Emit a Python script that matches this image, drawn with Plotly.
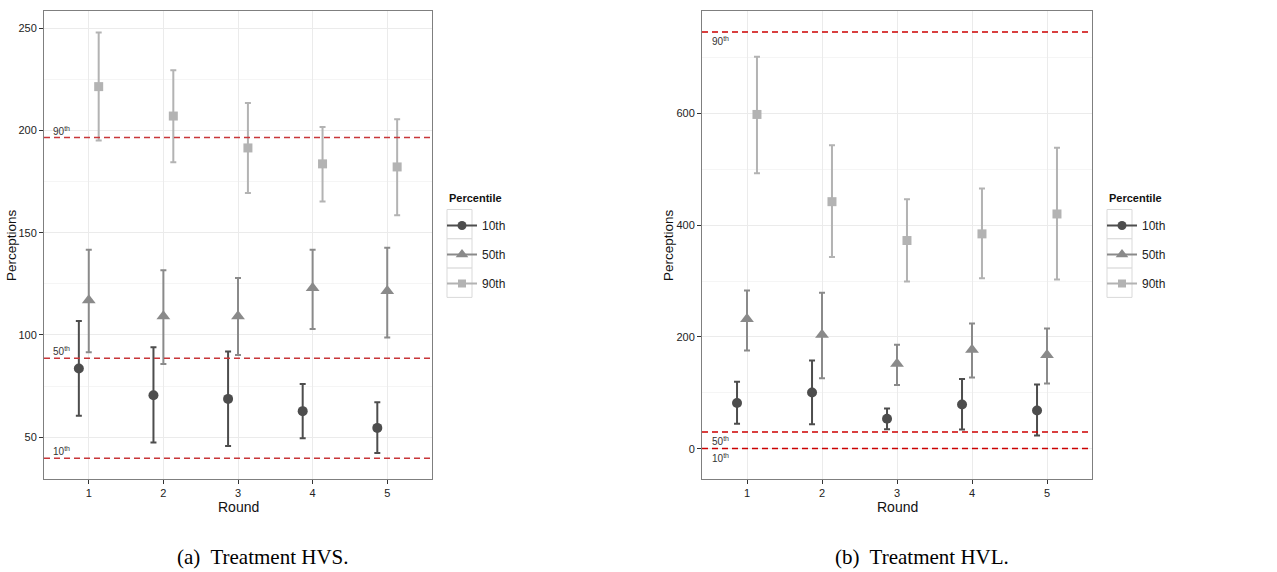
import plotly.graph_objects as go

# ---------------- data ----------------
rounds = [1, 2, 3, 4, 5]
percentiles = ["10th", "50th", "90th"]

# Treatment HVS (left panel)
hvs_10_mean = [83.6, 70.5, 68.7, 62.7, 54.5]
hvs_10_hi = [106.8, 94.0, 91.9, 76.0, 67.0]
hvs_10_lo = [60.4, 47.4, 45.7, 49.5, 42.2]
hvs_50_mean = [117.0, 109.1, 109.1, 123.0, 121.5]
hvs_50_hi = [141.7, 131.7, 127.8, 141.7, 142.7]
hvs_50_lo = [91.5, 85.8, 90.2, 102.9, 98.7]
hvs_90_mean = [221.5, 207.1, 191.5, 183.7, 182.2]
hvs_90_hi = [248.0, 229.5, 213.5, 201.8, 205.5]
hvs_90_lo = [195.1, 184.5, 169.4, 165.3, 158.5]
hvs_ref = [39.7, 88.6, 196.6]  # 10th, 50th, 90th reference lines

# Treatment HVL (right panel)
hvl_10_mean = [81.8, 100.7, 53.7, 79.3, 68.5]
hvl_10_hi = [120.0, 158.0, 72.0, 125.0, 115.0]
hvl_10_lo = [44.7, 44.0, 35.0, 34.5, 23.8]
hvl_50_mean = [232.0, 204.0, 152.0, 177.0, 167.6]
hvl_50_hi = [283.0, 279.0, 186.0, 224.0, 215.0]
hvl_50_lo = [176.0, 126.0, 114.0, 127.6, 117.0]
hvl_90_mean = [598.0, 442.0, 372.5, 384.4, 420.0]
hvl_90_hi = [701.0, 543.0, 446.5, 465.5, 538.6]
hvl_90_lo = [493.0, 343.0, 299.0, 305.0, 302.8]
hvl_ref = [0.5, 30.0, 745.6]

colors = ["#4d4d4d", "#8a8a8a", "#b3b3b3"]
symbols = ["circle", "triangle-up", "square"]
sizes = [10, 12, 9]
dodge = [-0.133, 0.0, 0.133]

W, H = 1277, 572


def px_x(a, b):
    return [a / W, b / W]


def px_y(top, bottom):
    return [1 - bottom / H, 1 - top / H]


fig = go.Figure()

panels = [
    dict(xa="x", ya="y", legend="legend", lx=447,
         series=[(hvs_10_mean, hvs_10_hi, hvs_10_lo),
                 (hvs_50_mean, hvs_50_hi, hvs_50_lo),
                 (hvs_90_mean, hvs_90_hi, hvs_90_lo)],
         ref=hvs_ref, refcolor="#c8373a", above=True),
    dict(xa="x2", ya="y2", legend="legend2", lx=1107,
         series=[(hvl_10_mean, hvl_10_hi, hvl_10_lo),
                 (hvl_50_mean, hvl_50_hi, hvl_50_lo),
                 (hvl_90_mean, hvl_90_hi, hvl_90_lo)],
         ref=hvl_ref, refcolor="#cc0000", above=False),
]

for p in panels:
    for i, (m, hi, lo) in enumerate(p["series"]):
        xs = [r + dodge[i] for r in rounds]
        fig.add_trace(go.Scatter(
            x=xs, y=m, mode="markers", xaxis=p["xa"], yaxis=p["ya"],
            marker=dict(color=colors[i], symbol=symbols[i], size=sizes[i]),
            error_y=dict(type="data", symmetric=False,
                         array=[h - v for h, v in zip(hi, m)],
                         arrayminus=[v - l for v, l in zip(m, lo)],
                         color=colors[i], thickness=2, width=3),
            showlegend=False, hoverinfo="skip"))
    # legend keys
    for i, name in enumerate(percentiles):
        fig.add_trace(go.Scatter(
            x=[None], y=[None], mode="lines+markers", name=name,
            xaxis=p["xa"], yaxis=p["ya"], legend=p["legend"],
            legendgroup=p["legend"] + name,
            line=dict(color=colors[i], width=2),
            marker=dict(color=colors[i], symbol=symbols[i], size=sizes[i] - 1)))
    # legend title and key boxes
    fig.add_annotation(x=p["lx"] / W, y=1 - 198 / H, xref="paper", yref="paper",
                       text="<b>Percentile</b>", showarrow=False,
                       xanchor="left", yanchor="middle",
                       font=dict(size=11, color="#111111"))
    for i in range(3):
        top = 209.5 + 29.3 * i
        fig.add_shape(type="rect", xref="paper", yref="paper", layer="below",
                      x0=p["lx"] / W, x1=(p["lx"] + 25) / W,
                      y0=1 - (top + 29.3) / H, y1=1 - top / H,
                      line=dict(color="#d9d9d9", width=1), fillcolor="white")
    # reference lines
    xref = p["xa"]
    for j, v in enumerate(p["ref"]):
        fig.add_shape(type="line", xref=xref + " domain", yref=p["ya"],
                      x0=0, x1=1, y0=v, y1=v,
                      line=dict(color=p["refcolor"], width=1.5, dash="6px,4px"))
        fig.add_annotation(x=0.5, y=v, xref=xref, yref=p["ya"],
                           text=percentiles[j][:-2] + "<sup>th</sup>",
                           showarrow=False, xanchor="left",
                           yanchor="bottom" if p["above"] else "top",
                           yshift=-1,
                           font=dict(size=10, color="#333333",
                                     family="Liberation Sans"))

axis_common = dict(showgrid=True, gridcolor="#ebebeb", gridwidth=1,
                   showline=True, linecolor="#7f7f7f", linewidth=1, mirror=True,
                   ticks="outside", ticklen=4, tickcolor="#333333",
                   tickfont=dict(size=11, color="#222222", family="Liberation Sans"),
                   zeroline=False)

legend_common = dict(xanchor="left", yanchor="top", font=dict(size=12),
                     tracegroupgap=10, itemwidth=30, bgcolor="rgba(0,0,0,0)")

fig.update_layout(
    width=W, height=H,
    margin=dict(l=0, r=0, t=0, b=0),
    paper_bgcolor="white", plot_bgcolor="white",
    font=dict(family="Liberation Sans", color="#222222"),
    xaxis=dict(domain=px_x(44, 432), range=[0.4, 5.6], tickvals=rounds,
               anchor="y", **axis_common),
    yaxis=dict(domain=px_y(11, 479), range=[29.5, 258.5],
               tickvals=[50, 100, 150, 200, 250], anchor="x",
               minor=dict(tickvals=[75, 125, 175, 225], showgrid=True,
                          gridcolor="#f5f5f5", ticks=""),
               **axis_common),
    xaxis2=dict(domain=px_x(702, 1092), range=[0.4, 5.6], tickvals=rounds,
                anchor="y2", **axis_common),
    yaxis2=dict(domain=px_y(11, 479), range=[-54, 783],
                tickvals=[0, 200, 400, 600], anchor="x2",
                minor=dict(tickvals=[100, 300, 500, 700], showgrid=True,
                           gridcolor="#f5f5f5", ticks=""),
                **axis_common),
    legend=dict(x=442 / W, y=1 - 211 / H, **legend_common),
    legend2=dict(x=1102 / W, y=1 - 211 / H, **legend_common),
)

# axis titles
for xc, tx in [(11, "Perceptions"), (668, "Perceptions")]:
    fig.add_annotation(x=xc / W, y=1 - 245 / H, xref="paper", yref="paper",
                       text=tx, textangle=-90, showarrow=False,
                       xanchor="center", yanchor="middle",
                       font=dict(size=13.5, color="#111111"))
for xc in [238, 897]:
    fig.add_annotation(x=xc / W, y=1 - 507 / H, xref="paper", yref="paper",
                       text="Round", showarrow=False,
                       xanchor="center", yanchor="middle",
                       font=dict(size=14, color="#111111"))

# captions
fig.add_annotation(x=263 / W, y=1 - 557 / H, xref="paper", yref="paper",
                   text="(a)  Treatment HVS.", showarrow=False,
                   xanchor="center", yanchor="middle",
                   font=dict(size=21, color="#000000", family="Liberation Serif"))
fig.add_annotation(x=922 / W, y=1 - 557 / H, xref="paper", yref="paper",
                   text="(b)  Treatment HVL.", showarrow=False,
                   xanchor="center", yanchor="middle",
                   font=dict(size=21, color="#000000", family="Liberation Serif"))

fig.write_html("out.html", config={"displayModeBar": False},
               post_script="document.body.style.margin='0';")
